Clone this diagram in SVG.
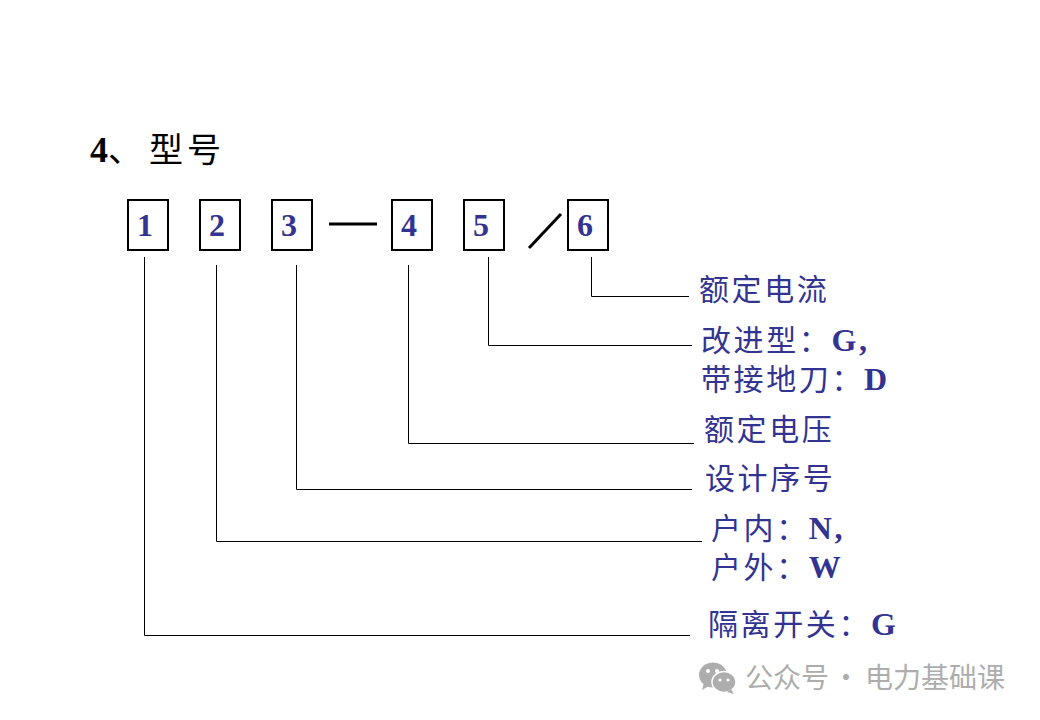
<svg xmlns="http://www.w3.org/2000/svg" width="1040" height="720" viewBox="0 0 1040 720">
<style>
text{font-family:"Liberation Serif","Noto Sans CJK SC",serif}
.box{fill:#fff;stroke:#000;stroke-width:2}
.num{font-size:32px;font-weight:700;fill:#333391;text-anchor:middle}
.lab{font-size:30px;fill:#333391;letter-spacing:2.6px}
.lab tspan{font-weight:700;font-size:32px}
.con{fill:none;stroke:#000;stroke-width:1}
.wm{font-size:28px;fill:#adadad;font-family:"Noto Sans CJK SC",sans-serif}
</style>
<rect width="1040" height="720" fill="#fff"/>
<text id="title" y="162" font-size="34" fill="#000"><tspan x="90" font-weight="700" font-size="36">4</tspan><tspan x="108">、</tspan><tspan x="149">型</tspan><tspan x="187">号</tspan></text>
<g id="connectors">
<path class="con" d="M144.500 257V635.500H690"/>
<path class="con" d="M216.500 265V541.500H702"/>
<path class="con" d="M296.500 265V489.500H692"/>
<path class="con" d="M408.500 265V443.500H694"/>
<path class="con" d="M488.500 257V345.500H692"/>
<path class="con" d="M591.500 257V296.500H689"/>
</g>
<g id="separators" stroke="#000" stroke-width="3" fill="none">
<path d="M329 224H377"/>
<path d="M529 248L561 214"/>
</g>
<g id="n1"><rect class="box" x="128" y="200" width="40" height="50"/><text class="num" x="145" y="236">1</text></g>
<g id="n2"><rect class="box" x="200" y="200" width="40" height="50"/><text class="num" x="217" y="236">2</text></g>
<g id="n3"><rect class="box" x="272" y="200" width="40" height="50"/><text class="num" x="289" y="236">3</text></g>
<g id="n4"><rect class="box" x="392" y="200" width="40" height="50"/><text class="num" x="409" y="236">4</text></g>
<g id="n5"><rect class="box" x="464" y="200" width="40" height="50"/><text class="num" x="481" y="236">5</text></g>
<g id="n6"><rect class="box" x="568" y="200" width="40" height="50"/><text class="num" x="585" y="236">6</text></g>
<g id="l6"><text class="lab" x="699" y="300">额定电流</text></g>
<g id="l5"><text class="lab" x="701" y="351">改进型：<tspan>G,</tspan></text><text class="lab" x="701" y="390">带接地刀：<tspan>D</tspan></text></g>
<g id="l4"><text class="lab" x="704" y="440">额定电压</text></g>
<g id="l3"><text class="lab" x="705" y="489">设计序号</text></g>
<g id="l2"><text class="lab" x="711" y="539">户内：<tspan>N,</tspan></text><text class="lab" x="711" y="578">户外：<tspan>W</tspan></text></g>
<g id="l1"><text class="lab" x="708" y="635">隔离开关：<tspan>G</tspan></text></g>
<g id="watermark">
<ellipse cx="713" cy="675" rx="14" ry="12.5" fill="#adadad"/>
<path d="M704 683l-2 7 7-4z" fill="#adadad"/>
<ellipse cx="724" cy="682" rx="12" ry="10.5" fill="#adadad" stroke="#fff" stroke-width="1.5"/>
<path d="M731 689l3 5-7-2z" fill="#adadad"/>
<circle cx="708" cy="671" r="2" fill="#fff"/><circle cx="717" cy="671" r="2" fill="#fff"/>
<circle cx="720" cy="680" r="1.600" fill="#fff"/><circle cx="728" cy="680" r="1.600" fill="#fff"/>
<text class="wm" y="688"><tspan x="745">公众号</tspan><tspan x="832">·</tspan><tspan x="865">电力基础课</tspan></text>
</g>
</svg>
